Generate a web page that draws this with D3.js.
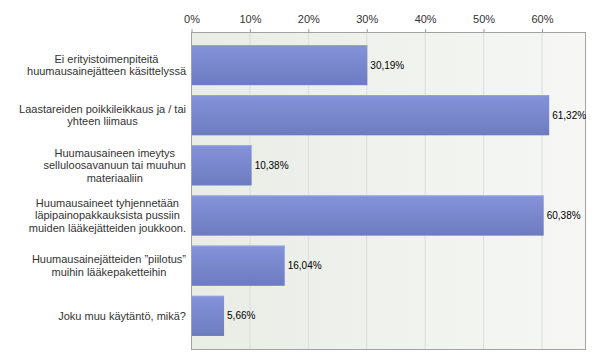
<!DOCTYPE html>
<html>
<head>
<meta charset="utf-8">
<script src="https://cdn.jsdelivr.net/npm/d3@7"></script>
<style>
  html, body { margin: 0; padding: 0; background: #ffffff; }
  svg { display: block; }
  text { font-family: "Liberation Sans", Arial, sans-serif; }
</style>
</head>
<body>
<svg id="chart" width="600" height="364"></svg>
<script>
const categories = [
  ["Ei erityistoimenpiteitä", "huumausainejätteen käsittelyssä"],
  ["Laastareiden poikkileikkaus ja / tai", "yhteen liimaus"],
  ["Huumausaineen imeytys", "selluloosavanuun tai muuhun", "materiaaliin"],
  ["Huumausaineet tyhjennetään", "läpipainopakkauksista pussiin", "muiden lääkejätteiden joukkoon."],
  ["Huumausainejätteiden ”piilotus”", "muihin lääkepaketteihin"],
  ["Joku muu käytäntö, mikä?"]
];
const values = [30.19, 61.32, 10.38, 60.38, 16.04, 5.66];
const tickValues = [0, 10, 20, 30, 40, 50, 60];

const svg = d3.select("#chart");
const pL = 191, pR = 585, pT = 32, pB = 349;

const x = d3.scaleLinear().domain([0, d3.max(values) * 1.1]).range([pL, pR]);
const y = d3.scaleBand().domain(d3.range(values.length)).range([pT, pB])
  .paddingInner(0.2).paddingOuter(0.26);

const defs = svg.append("defs");
const bg = defs.append("linearGradient").attr("id", "bg").attr("x1", 0).attr("x2", 1).attr("y1", 0).attr("y2", 0);
bg.append("stop").attr("offset", 0).attr("stop-color", "#e9ede5");
bg.append("stop").attr("offset", 1).attr("stop-color", "#f6f7f5");
const bar = defs.append("linearGradient").attr("id", "bar").attr("x1", 0).attr("x2", 0).attr("y1", 0).attr("y2", 1);
bar.append("stop").attr("offset", 0).attr("stop-color", "#8493da");
bar.append("stop").attr("offset", 1).attr("stop-color", "#6d7bbf");

// plot background
svg.append("rect").attr("x", pL).attr("y", pT).attr("width", pR - pL).attr("height", pB - pT)
  .attr("fill", "url(#bg)");

// grid
svg.append("g").selectAll("line").data(tickValues.slice(1)).join("line")
  .attr("x1", d => x(d) + 0.5).attr("x2", d => x(d) + 0.5)
  .attr("y1", pT).attr("y2", pB)
  .attr("stroke", "#dcdedb").attr("stroke-width", 1);

// top axis
const axis = d3.axisTop(x).tickValues(tickValues).tickFormat(d => d + "%").tickSize(3).tickSizeOuter(0);
const gAxis = svg.append("g").attr("transform", `translate(0.5,${pT})`).call(axis);
gAxis.select(".domain").remove();
gAxis.selectAll(".tick line").attr("stroke", "#999");
gAxis.selectAll(".tick text").attr("font-size", 11).attr("fill", "#333")
  .attr("font-family", '"Liberation Sans", Arial, sans-serif').attr("dy", "-0.3em");

// bars
svg.append("g").selectAll("rect").data(values).join("rect")
  .attr("x", x(0)).attr("y", (d, i) => y(i))
  .attr("width", d => x(d) - x(0)).attr("height", y.bandwidth())
  .attr("fill", "url(#bar)");
svg.append("g").selectAll("line").data(values).join("line")
  .attr("x1", x(0)).attr("x2", d => x(d))
  .attr("y1", (d, i) => y(i) + 0.5).attr("y2", (d, i) => y(i) + 0.5)
  .attr("stroke", "#95a2e0");

// border
svg.append("rect").attr("x", pL + 0.5).attr("y", pT + 0.5)
  .attr("width", pR - pL).attr("height", pB - pT)
  .attr("fill", "none").attr("stroke", "#a3a3a3");

// value labels
svg.append("g").selectAll("text").data(values).join("text")
  .attr("x", d => x(d) + 3).attr("y", (d, i) => y(i) + y.bandwidth() / 2)
  .attr("dy", "0.35em").attr("font-size", 10).attr("fill", "#000")
  .text(d => d.toFixed(2).replace(".", ",") + "%");

// category labels
const labelRight = 186, lineH = 12.5;
const gLab = svg.append("g");
categories.forEach((lines, i) => {
  const t = gLab.append("text").attr("font-size", 11).attr("fill", "#333").attr("text-anchor", "middle");
  const cy = y(i) + y.bandwidth() / 2;
  const n = lines.length;
  const spans = lines.map((s, k) => t.append("tspan")
    .attr("y", cy + (k - (n - 1) / 2) * lineH).attr("dy", "0.35em").text(s));
  const maxW = d3.max(spans, s => s.node().getComputedTextLength());
  spans.forEach(s => s.attr("x", labelRight - maxW / 2));
});
</script>
</body>
</html>
